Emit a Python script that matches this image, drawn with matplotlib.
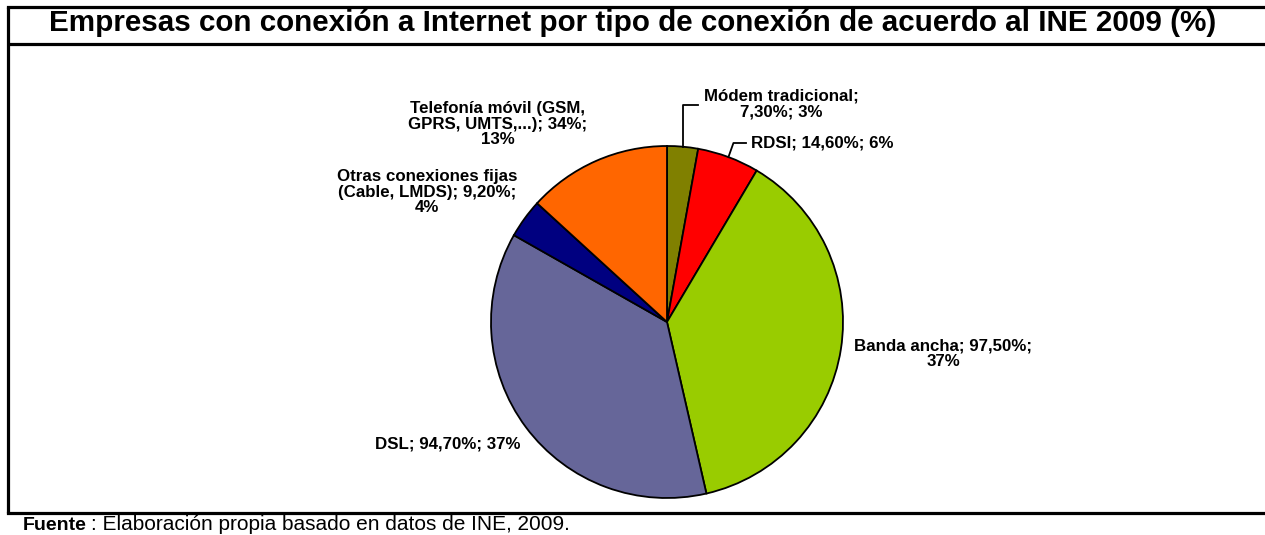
import numpy as np
import matplotlib
matplotlib.use("Agg")
import matplotlib.pyplot as plt

# ---- data ----
categories = ["Módem tradicional", "RDSI", "Banda ancha", "DSL",
              "Otras conexiones fijas (Cable, LMDS)", "Telefonía móvil (GSM, GPRS, UMTS,...)"]
values = [7.30, 14.60, 97.50, 94.70, 9.20, 34.0]
value_labels = ["7,30%", "14,60%", "97,50%", "94,70%", "9,20%", "34%"]
pct_labels = ["3%", "6%", "37%", "37%", "4%", "13%"]
colors = ["#808000", "#FF0000", "#99CC00", "#666699", "#000080", "#FF6600"]
label_texts = [
    "Módem tradicional;\n7,30%; 3%",
    "RDSI; 14,60%; 6%",
    "Banda ancha; 97,50%;\n37%",
    "DSL; 94,70%; 37%",
    "Otras conexiones fijas\n(Cable, LMDS); 9,20%;\n4%",
    "Telefonía móvil (GSM,\nGPRS, UMTS,...); 34%;\n13%",
]
title = "Empresas con conexión a Internet por tipo de conexión de acuerdo al INE 2009 (%)"
source_bold = "Fuente"
source_rest = ": Elaboración propia basado en datos de INE, 2009."

W, H = 1265, 535
fig = plt.figure(figsize=(W / 100, H / 100), dpi=100)
ax = fig.add_axes([0, 0, 1, 1])
FONT = "Liberation Sans"

cx, cy, R = 667, H - 322, 176
wedges, _ = ax.pie(values, colors=colors, startangle=90, counterclock=False,
                   center=(cx, cy), radius=R,
                   wedgeprops=dict(edgecolor="black", linewidth=1.3))
ax.set_xlim(0, W)
ax.set_ylim(0, H)
ax.set_aspect("equal")
ax.axis("off")

# label block centers in reference pixel coords
label_pos = [(781, 104), (822, 143), (943, 354), (448, 444), (427, 192), (498, 124)]
for txt, (lx, ly) in zip(label_texts, label_pos):
    ax.text(lx, H - ly, txt, ha="center", va="center", fontsize=12.2,
            fontweight="bold", family=FONT, linespacing=1.08)

# leader lines for the two small slices
total = sum(values)
cum = 0
mids = []
for v in values:
    mids.append(90 - (cum + v / 2) / total * 360)
    cum += v
for idx, ty, tx in [(0, 105, 698), (1, 143, 746)]:
    a = np.deg2rad(mids[idx])
    ex, ey = cx + R * np.cos(a), cy + R * np.sin(a)
    if idx == 0:
        xs, ys = [ex, ex, tx], [ey, H - ty, H - ty]
    else:
        xs, ys = [ex, ex + 5, tx], [ey, H - ty, H - ty]
    ax.plot(xs, ys, color="black", lw=1.3)

# frame
lw = 2.3
ax.plot([8, W + 5], [H - 7, H - 7], color="black", lw=lw, solid_capstyle="projecting")
ax.plot([8, W + 5], [H - 43.5, H - 43.5], color="black", lw=lw, solid_capstyle="butt")
ax.plot([8, W + 5], [H - 513, H - 513], color="black", lw=lw, solid_capstyle="projecting")
ax.plot([8, 8], [H - 7, H - 513], color="black", lw=lw, solid_capstyle="butt")

ax.text(633, H - 31, title, ha="center", va="baseline", fontsize=21.3,
        fontweight="bold", family=FONT)

ax.text(23, H - 530, source_bold, ha="left", va="baseline", fontsize=14,
        fontweight="bold", family=FONT)
ax.text(91, H - 530, source_rest, ha="left", va="baseline", fontsize=15,
        family=FONT)

fig.savefig("out.png", dpi=100)
